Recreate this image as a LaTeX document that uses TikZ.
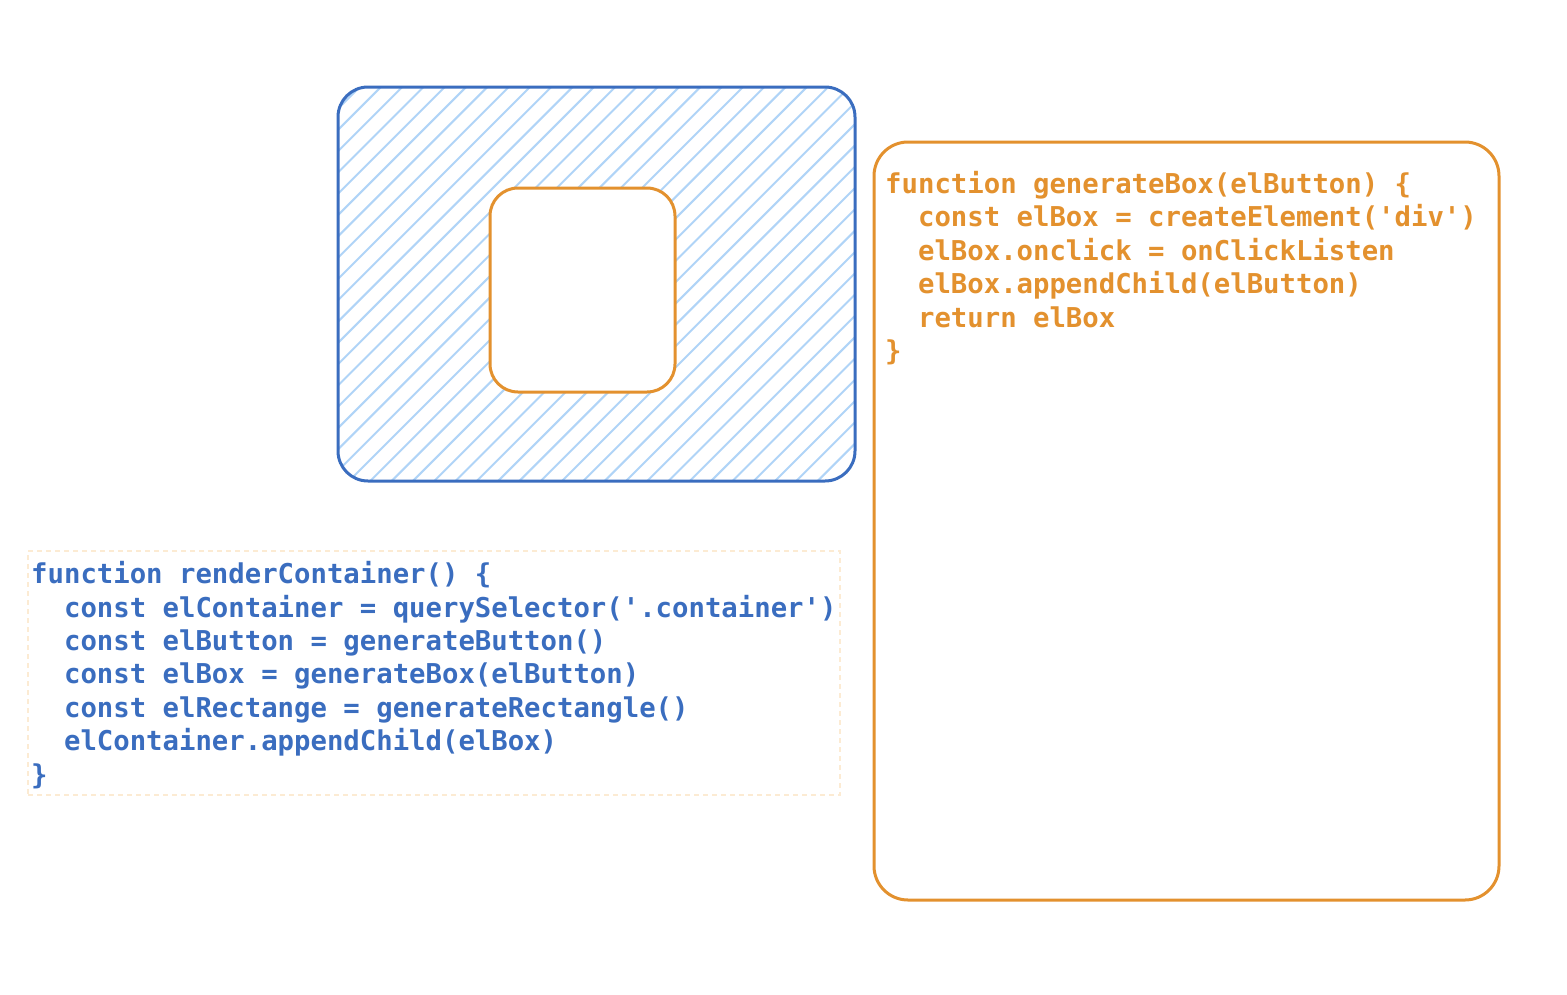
\documentclass[tikz,border=0pt]{standalone}
\usepackage{fontspec}
\setmonofont{DejaVu Sans Mono}
\definecolor{codeblue}{HTML}{3A6DBF}
\definecolor{codeorange}{HTML}{E3912E}
\definecolor{hatchblue}{HTML}{B0D4F7}
\definecolor{dashpeach}{HTML}{FCEBD3}
\newcommand{\ind}{\phantom{cc}}
\begin{document}
\begin{tikzpicture}[
    x=1pt, y=-1pt,
    code/.style={font=\ttfamily\bfseries\fontsize{27.3}{33.4}\selectfont, align=left, inner sep=0pt, anchor=base west},
    hatch/.style={hatchblue, line width=2pt},
    container box/.style={draw=codeblue, line width=3pt, rounded corners=30pt, minimum width=517pt, minimum height=394pt, inner sep=0pt,
        path picture={
            \foreach \k in {-19,...,25} {
                \draw[hatch] ([xshift=11pt+\k*21.3pt]path picture bounding box.south west) -- ++(400,-400);
            }
        }},
    box frame/.style={draw=codeorange, line width=3pt, fill=white, inner sep=0pt}
]
    \useasboundingbox (0,0) rectangle (1567,994);

    % Container with box
    \node[container box] (container) at (596.5,284) {};
    \node[box frame, rounded corners=28pt, minimum width=185pt, minimum height=204pt] (box) at (582.5,290) {};

    % generateBox (base = last line)
    \node[box frame, rounded corners=34pt, minimum width=625pt, minimum height=758pt] (box panel) at (1186.5,521) {};
    \node[code, text=codeorange] (box code) at (885,360.5) {function generateBox(elButton) \{\\
        \ind const elBox = createElement('div')\\
        \ind elBox.onclick = onClickListen\\
        \ind elBox.appendChild(elButton)\\
        \ind return elBox\\
        \}};

    % renderContainer (base = last line)
    \node[draw=dashpeach, line width=1.5pt, dash pattern=on 5pt off 4pt, minimum width=812pt, minimum height=244pt] (render panel) at (434,673) {};
    \node[code, text=codeblue] (render code) at (31,784) {function renderContainer() \{\\
        \ind const elContainer = querySelector('.container')\\
        \ind const elButton = generateButton()\\
        \ind const elBox = generateBox(elButton)\\
        \ind const elRectange = generateRectangle()\\
        \ind elContainer.appendChild(elBox)\\
        \}};
\end{tikzpicture}
\end{document}
